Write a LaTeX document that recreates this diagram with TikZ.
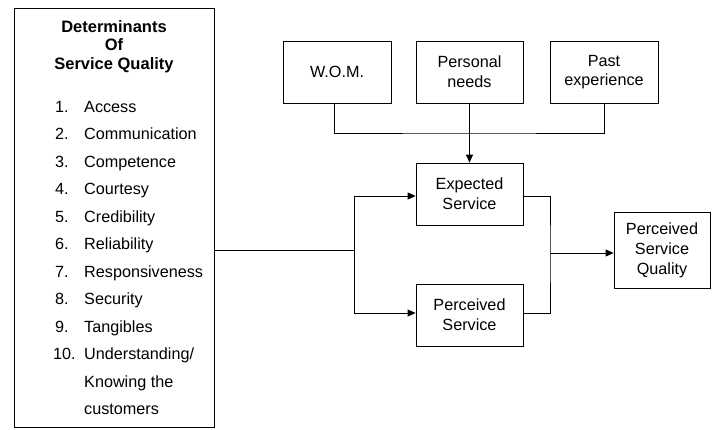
\documentclass[tikz,border=0pt]{standalone}
\usepackage{fontspec}
\setmainfont{Liberation Sans}
\usetikzlibrary{arrows.meta}
\begin{document}
\begin{tikzpicture}[x=1pt,y=-1pt,
  every node/.style={font=\fontsize{16.2}{19.6}\selectfont, inner sep=0pt},
  box/.style={draw, line width=0.8pt, align=center, minimum height=62pt},
  item/.style={anchor=base west},
  head/.style={anchor=base, font=\fontsize{16.5}{19}\selectfont\bfseries},
  wire/.style={line width=0.8pt},
  arr/.style={wire, -{Triangle[length=8pt,width=7pt]}}]
\useasboundingbox (0,0) rectangle (712,429);

% determinants panel
\node[draw, line width=0.8pt, minimum width=200pt, minimum height=419pt, anchor=north west] (det) at (14,8) {};
\node[head] (title1) at (114,32) {Determinants};
\node[head] (title2) at (114,50.5) {Of};
\node[head] (title3) at (114,69) {Service Quality};

\node[item] (num1) at (55,112) {1.};    \node[item] (txt1) at (84,112) {Access};
\node[item] (num2) at (55,139.5) {2.};  \node[item] (txt2) at (84,139.5) {Communication};
\node[item] (num3) at (55,167) {3.};    \node[item] (txt3) at (84,167) {Competence};
\node[item] (num4) at (55,194.5) {4.};  \node[item] (txt4) at (84,194.5) {Courtesy};
\node[item] (num5) at (55,222) {5.};    \node[item] (txt5) at (84,222) {Credibility};
\node[item] (num6) at (55,249.5) {6.};  \node[item] (txt6) at (84,249.5) {Reliability};
\node[item] (num7) at (55,277) {7.};    \node[item] (txt7) at (84,277) {Responsiveness};
\node[item] (num8) at (55,304.5) {8.};  \node[item] (txt8) at (84,304.5) {Security};
\node[item] (num9) at (55,332) {9.};    \node[item] (txt9) at (84,332) {Tangibles};
\node[item] (num10) at (53,359.5) {10.};\node[item] (txt10) at (84,359.5) {Understanding/};
\node[item] (cont1) at (84,387) {Knowing the};
\node[item] (cont2) at (84,414.5) {customers};

% expectation sources
\node[box, minimum width=108pt] (wom) at (337,72) {W.O.M.};
\node[box, minimum width=107pt] (pn) at (469.5,72) {Personal\\needs};
\node[box, minimum width=108pt] (pe) at (604,72) {Past\\experience};

% service boxes
\node[box, minimum width=107pt] (exp) at (469.5,194) {Expected\\Service};
\node[box, minimum width=107pt] (per) at (469.5,315) {Perceived\\Service};
\node[box, minimum width=96pt, minimum height=76pt, font=\fontsize{16.2}{20}\selectfont] (psq) at (662,250) {Perceived\\Service\\Quality};

% connectors
\coordinate (bus) at (469.5,133);
\draw[wire] (wom.south -| 334,0) |- (bus) -| (pe.south -| 604,0);
\draw[arr] (pn.south) -- (exp.north);

\coordinate (split) at (354,250);
\draw[wire] (det.east |- split) -- (split);
\draw[arr] (split) |- (exp.west |- 0,196);
\draw[arr] (split) |- (per.west |- 0,313);

\coordinate (merge) at (550,253);
\draw[wire] (exp.east |- 0,196) -| (merge) |- (per.east |- 0,313);
\draw[arr] (merge) -- (psq.west |- merge);
\end{tikzpicture}
\end{document}
